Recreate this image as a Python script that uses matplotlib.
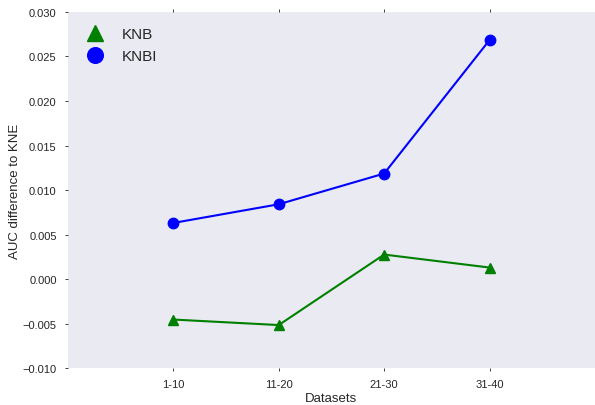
import matplotlib
matplotlib.use("Agg")
import matplotlib.pyplot as plt

datasets = ["1-10", "11-20", "21-30", "31-40"]
knb = [-0.00455, -0.00517, 0.00275, 0.00129]
knbi = [0.0063, 0.0084, 0.01185, 0.02685]

plt.rcParams['font.family'] = ['Liberation Sans', 'DejaVu Sans']

fig = plt.figure(figsize=(5.95, 4.06), dpi=100)
ax = fig.add_axes([0.114, 0.091, 0.886, 0.877])
ax.set_facecolor('#EAEAF2')
for s in ax.spines.values():
    s.set_visible(False)

x = list(range(1, len(datasets) + 1))
ax.plot(x, knb, color='green', marker='^', markersize=7.5, lw=1.5, label='KNB')
ax.plot(x, knbi, color='blue', marker='o', markersize=7.5, lw=1.5, label='KNBI')

ax.set_xlim(0, 5)
ax.set_ylim(-0.010, 0.030)
ax.set_xticks(x)
ax.set_xticklabels(datasets)
ax.set_yticks([-0.010, -0.005, 0.0, 0.005, 0.010, 0.015, 0.020, 0.025, 0.030])
ax.yaxis.set_major_formatter(matplotlib.ticker.FuncFormatter(
    lambda v, p: ('%.3f' % v).replace('-', '\u2212') if abs(v) > 1e-9 else '0.000'))
ax.tick_params(axis='both', labelsize=8, length=2, width=0.6, color='#222222', labelcolor='#262626', pad=6,
               top=True, right=False)
ax.set_xlabel('Datasets', fontsize=9.5, color='#262626', labelpad=2)
ax.set_ylabel('AUC difference to KNE', fontsize=9.5, color='#262626')
ax.yaxis.set_label_coords(-0.088, 0.5)

leg = ax.legend(loc='upper left', frameon=False, fontsize=11, markerscale=1.5, handlelength=1.5,
                handletextpad=1.0, borderaxespad=0.6)
for t in leg.get_texts():
    t.set_color('#262626')
for h in leg.legend_handles:
    h.set_linestyle('')

fig.savefig('out.png', dpi=100)
